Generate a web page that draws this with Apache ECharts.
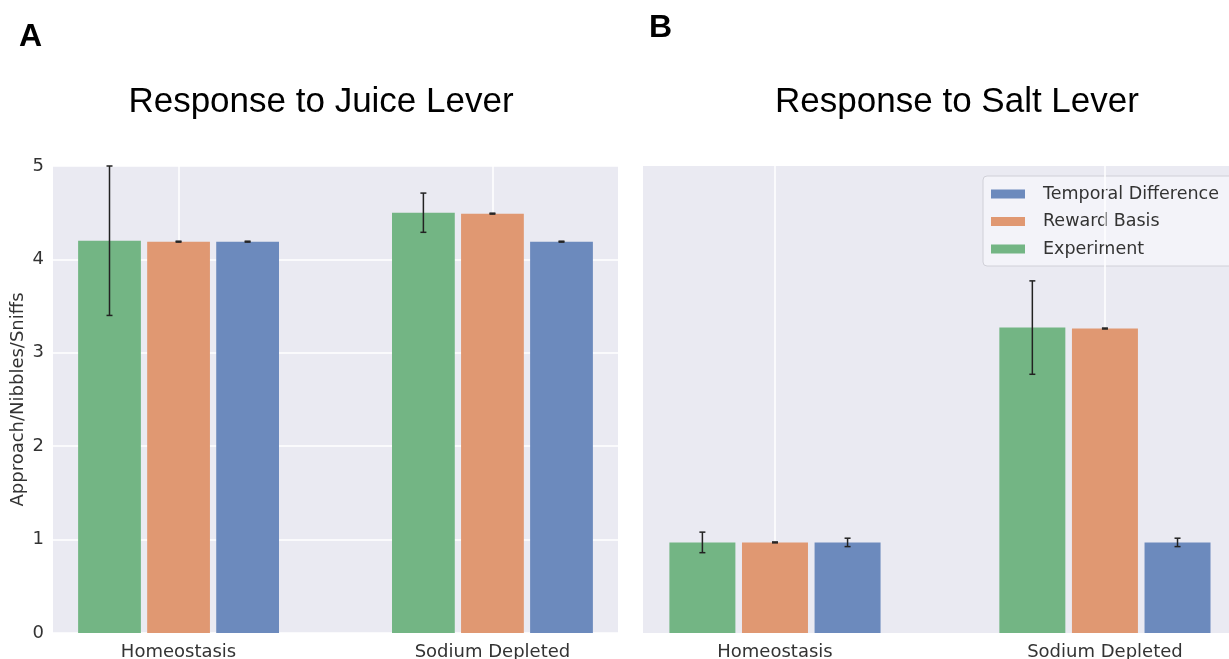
<!DOCTYPE html>
<html>
<head>
<meta charset="utf-8">
<script src="https://cdn.jsdelivr.net/npm/echarts@6/dist/echarts.min.js"></script>
<style>
html, body { margin: 0; padding: 0; background: #fff; }
#main { width: 1229px; height: 659px; }
</style>
</head>
<body>
<div id="main"></div>
<script>
var categories = ['Homeostasis', 'Sodium Depleted'];
var seriesNames = ['Experiment', 'Reward Basis', 'Temporal Difference'];
var legendOrder = ['Temporal Difference', 'Reward Basis', 'Experiment'];

// panel A - juice lever
var juiceExperiment = [4.20, 4.50];
var juiceExperimentErr = [0.80, 0.21];
var juiceReward = [4.19, 4.49];
var juiceRewardErr = [0.005, 0.005];
var juiceTD = [4.19, 4.19];
var juiceTDErr = [0.005, 0.005];

// panel B - salt lever
var saltExperiment = [0.97, 3.27];
var saltExperimentErr = [0.11, 0.50];
var saltReward = [0.97, 3.26];
var saltRewardErr = [0.005, 0.005];
var saltTD = [0.97, 0.97];
var saltTDErr = [0.045, 0.045];

var colors = ['rgb(115,181,132)', 'rgb(224,152,114)', 'rgb(108,138,189)'];
var BAR_W = 0.2, STEP = 0.22;

function rows(vals, errs) {
    return vals.map(function (v, i) { return [i, v, errs[i]]; });
}

function barRender(offset, color) {
    return function (params, api) {
        var x = api.value(0) + offset, v = api.value(1), e = api.value(2);
        var bl = api.coord([x - BAR_W / 2, 0]);
        var tr = api.coord([x + BAR_W / 2, v]);
        var lo = api.coord([x, v - e]);
        var hi = api.coord([x, v + e]);
        var cap = 3;
        var err = { stroke: '#222', lineWidth: 1.5 };
        return {
            type: 'group',
            children: [
                { type: 'rect', shape: { x: bl[0], y: tr[1], width: tr[0] - bl[0], height: bl[1] - tr[1] }, style: { fill: color } },
                { type: 'line', shape: { x1: lo[0], y1: lo[1], x2: hi[0], y2: hi[1] }, style: err },
                { type: 'line', shape: { x1: hi[0] - cap, y1: hi[1], x2: hi[0] + cap, y2: hi[1] }, style: err },
                { type: 'line', shape: { x1: lo[0] - cap, y1: lo[1], x2: lo[0] + cap, y2: lo[1] }, style: err }
            ]
        };
    };
}

var panels = [
    [rows(juiceExperiment, juiceExperimentErr), rows(juiceReward, juiceRewardErr), rows(juiceTD, juiceTDErr)],
    [rows(saltExperiment, saltExperimentErr), rows(saltReward, saltRewardErr), rows(saltTD, saltTDErr)]
];

var series = [];
panels.forEach(function (panel, p) {
    // vertical grid lines at the categories
    series.push({
        type: 'line', xAxisIndex: p, yAxisIndex: p, data: [], silent: true,
        markLine: {
            silent: true, symbol: 'none', label: { show: false },
            lineStyle: { color: '#fff', width: 1.5, type: 'solid' },
            data: [{ xAxis: 0 }, { xAxis: 1 }]
        }
    });
    panel.forEach(function (d, s) {
        series.push({
            type: 'custom',
            name: seriesNames[s],
            xAxisIndex: p, yAxisIndex: p,
            z: 10,
            itemStyle: { color: colors[s] },
            encode: { x: 0, y: 1 },
            data: d,
            renderItem: barRender((s - 1) * STEP, colors[s])
        });
    });
});

// right panel is cut by the page edge, so its axis stops short of 1.4
function xAxisFor(i, max) {
    return {
        type: 'value', gridIndex: i, min: -0.4, max: max, interval: 0.2,
        axisLine: { show: false }, axisTick: { show: false }, splitLine: { show: false },
        axisLabel: {
            fontSize: 18, color: '#333', fontFamily: 'DejaVu Sans', margin: 10,
            showMaxLabel: false,
            formatter: function (v) {
                if (Math.abs(v) < 1e-6) return categories[0];
                if (Math.abs(v - 1) < 1e-6) return categories[1];
                return '';
            }
        }
    };
}

var chart = echarts.init(document.getElementById('main'));
chart.setOption({
    animation: false,
    title: [
        { text: 'A', left: 14, top: 16, textStyle: { fontFamily: 'Liberation Sans', fontWeight: 'bold', fontSize: 32, color: '#000' } },
        { text: 'B', left: 644, top: 7, textStyle: { fontFamily: 'Liberation Sans', fontWeight: 'bold', fontSize: 32, color: '#000' } },
        { text: 'Response to Juice Lever', left: 316, top: 80, textAlign: 'center', textStyle: { fontFamily: 'Liberation Sans', fontWeight: 'normal', fontSize: 35, color: '#000' } },
        { text: 'Response to Salt Lever', left: 952, top: 80, textAlign: 'center', textStyle: { fontFamily: 'Liberation Sans', fontWeight: 'normal', fontSize: 35, color: '#000' } }
    ],
    legend: {
        data: legendOrder,
        orient: 'vertical',
        left: 983, top: 176,
        icon: 'rect', itemWidth: 34, itemHeight: 9, itemGap: 9.5,
        padding: [9, 20, 8, 8],
        backgroundColor: 'rgba(245,245,250,0.8)',
        borderColor: '#d0d0d8', borderWidth: 1, borderRadius: 4,
        textStyle: { fontFamily: 'DejaVu Sans', fontSize: 17.5, color: '#333', padding: [0, 0, 0, 13] }
    },
    grid: [
        { left: 53, top: 166, width: 565, height: 467, outerBoundsMode: 'none', show: true, backgroundColor: '#EAEAF2', borderWidth: 0 },
        { left: 643, top: 166, right: 0, height: 467, outerBoundsMode: 'none', show: true, backgroundColor: '#EAEAF2', borderWidth: 0 }
    ],
    xAxis: [xAxisFor(0, 1.4), xAxisFor(1, 1.376)],
    yAxis: [
        {
            type: 'value', gridIndex: 0, min: 0, max: 5, interval: 1,
            name: 'Approach/Nibbles/Sniffs', nameLocation: 'middle', nameGap: 26,
            nameTextStyle: { fontFamily: 'DejaVu Sans', fontSize: 18, color: '#333' },
            axisLine: { show: false }, axisTick: { show: false },
            axisLabel: { fontFamily: 'DejaVu Sans', fontSize: 18, color: '#333', margin: 9 },
            splitLine: { lineStyle: { color: '#fff', width: 1.5 } }
        },
        {
            type: 'value', gridIndex: 1, min: 0, max: 5, interval: 1,
            axisLine: { show: false }, axisTick: { show: false },
            axisLabel: { show: false }, splitLine: { show: false }
        }
    ],
    series: series
});
</script>
</body>
</html>
